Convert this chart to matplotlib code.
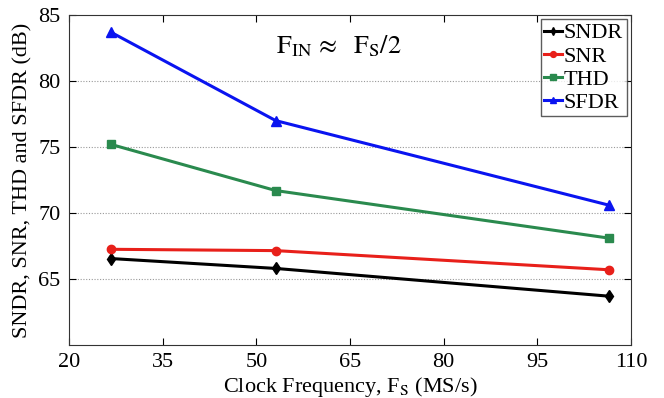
import matplotlib
matplotlib.use("Agg")
import matplotlib.pyplot as plt

plt.rcParams['font.family'] = ['Liberation Serif', 'DejaVu Serif']
plt.rcParams['mathtext.fontset'] = 'stix'

fs = [26.7, 53.1, 106.4]
sndr = [66.55, 65.8, 63.7]
snr = [67.25, 67.15, 65.7]
thd = [75.2, 71.7, 68.1]
sfdr = [83.7, 77.0, 70.6]

xticks = [20, 35, 50, 65, 80, 95, 110]
yticks = [65, 70, 75, 80, 85]

fig = plt.figure(figsize=(6.64, 3.98), dpi=100)
ax = fig.add_axes([0.1039, 0.1332, 0.8464, 0.8291])

ax.plot(fs, sndr, color='black', lw=2.2, marker='d', ms=6, label='SNDR')
ax.plot(fs, snr, color='#e8201a', lw=2.2, marker='o', ms=6, label='SNR')
ax.plot(fs, thd, color='#2a8a4e', lw=2.2, marker='s', ms=5.5, label='THD')
ax.plot(fs, sfdr, color='#0a14f0', lw=2.2, marker='^', ms=6.5, label='SFDR')

ax.set_xlim(20, 110)
ax.set_ylim(60, 85)
ax.set_xticks(xticks)
ax.set_yticks(yticks)
ax.tick_params(direction='in', top=True, right=True, labelsize=16, length=5, pad=6)
for y in [65, 70, 75, 80]:
    ax.axhline(y, color='#999999', lw=0.8, ls=(0, (1, 1.5)), zorder=0)
for s in ax.spines.values():
    s.set_color('#333333')

ax.set_xlabel('Clock Frequency, F$_\\mathrm{S}$ (MS/s)', fontsize=16, labelpad=2)
ax.set_ylabel('SNDR, SNR, THD and SFDR (dB)', fontsize=16, labelpad=4)

ax.text(0.48, 0.905, r'$\mathrm{F_{IN}}\,\approx\ \ \mathrm{F_S/2}$', transform=ax.transAxes,
        fontsize=19, ha='center', va='center')

leg = ax.legend(loc='upper right', fontsize=16, frameon=True, fancybox=False,
                edgecolor='#333333', handlelength=0.8, handletextpad=0.1,
                labelspacing=0.12, borderpad=0.15, borderaxespad=0.2, markerscale=0.7)
leg.get_frame().set_linewidth(1.0)

fig.savefig('out.png', dpi=100)
